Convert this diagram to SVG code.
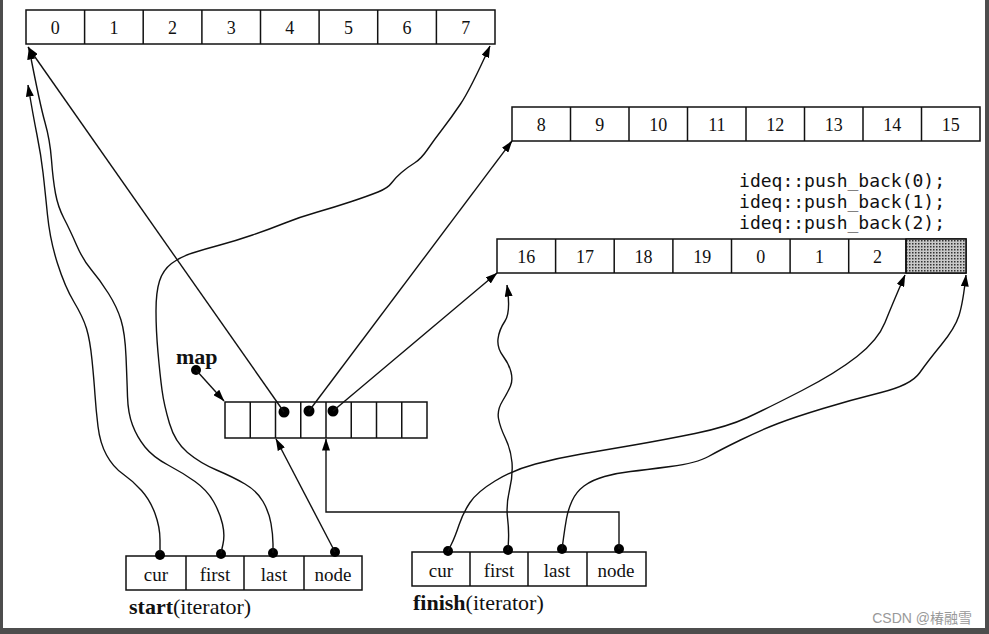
<svg xmlns="http://www.w3.org/2000/svg" width="989" height="634" viewBox="0 0 989 634">
<defs>
<marker id="ah" viewBox="0 0 12 8" refX="11.5" refY="4" markerWidth="12" markerHeight="8" orient="auto" markerUnits="userSpaceOnUse"><path d="M0,0 L12,4 L0,8 z" fill="#000"/></marker>
<pattern id="hatch" width="3" height="3" patternUnits="userSpaceOnUse"><rect width="3" height="3" fill="#c8c8c8"/><rect width="1.5" height="1.5" fill="#333"/></pattern>
</defs>
<style>
.box{fill:#fff;stroke:#111;stroke-width:1.5}
.div{stroke:#111;stroke-width:1.5}
.num{font-family:"Liberation Serif",serif;font-size:18px;text-anchor:middle;fill:#111}
.fld{font-family:"Liberation Serif",serif;font-size:19px;text-anchor:middle;fill:#111}
.cap{font-family:"Liberation Serif",serif;font-size:22px;fill:#111}
.code{font-family:"DejaVu Sans Mono",monospace;font-size:18px;fill:#111;text-anchor:end}
.ln{fill:none;stroke:#111;stroke-width:1.4}
.dot{fill:#000}
</style>
<rect x="0" y="0" width="989" height="634" fill="#fff"/>
<rect x="0" y="0" width="3" height="634" fill="#4d4d4d"/>
<rect x="985" y="0" width="4" height="634" fill="#4d4d4d"/>
<rect x="0" y="628" width="989" height="6" fill="#4d4d4d"/>

<g id="buffer1">
<rect class="box" x="26" y="10" width="469" height="34"/>
<path class="div" d="M84.6,10V44M143.2,10V44M201.9,10V44M260.5,10V44M319.1,10V44M377.7,10V44M436.4,10V44"/>
<text class="num" x="55.3" y="34">0</text><text class="num" x="113.9" y="34">1</text><text class="num" x="172.6" y="34">2</text><text class="num" x="231.2" y="34">3</text><text class="num" x="289.8" y="34">4</text><text class="num" x="348.4" y="34">5</text><text class="num" x="407" y="34">6</text><text class="num" x="465.7" y="34">7</text>
</g>

<g id="buffer2">
<rect class="box" x="512" y="107" width="468" height="34"/>
<path class="div" d="M570.5,107V141M629,107V141M687.5,107V141M746,107V141M804.5,107V141M863,107V141M921.5,107V141"/>
<text class="num" x="541.3" y="131">8</text><text class="num" x="599.8" y="131">9</text><text class="num" x="658.3" y="131">10</text><text class="num" x="716.8" y="131">11</text><text class="num" x="775.3" y="131">12</text><text class="num" x="833.8" y="131">13</text><text class="num" x="892.3" y="131">14</text><text class="num" x="950.8" y="131">15</text>
</g>

<g id="pushback">
<text class="code" x="945" y="187">ideq::push_back(0);</text>
<text class="code" x="945" y="208">ideq::push_back(1);</text>
<text class="code" x="945" y="229">ideq::push_back(2);</text>
</g>

<g id="buffer3">
<rect class="box" x="497" y="239" width="469" height="34"/>
<rect x="906" y="239" width="60" height="34" fill="url(#hatch)" stroke="#111" stroke-width="1.5"/>
<path class="div" d="M555.6,239V273M614.2,239V273M672.9,239V273M731.5,239V273M790.1,239V273M848.7,239V273M906,239V273"/>
<text class="num" x="526.3" y="263">16</text><text class="num" x="584.9" y="263">17</text><text class="num" x="643.6" y="263">18</text><text class="num" x="702.2" y="263">19</text><text class="num" x="760.8" y="263">0</text><text class="num" x="819.4" y="263">1</text><text class="num" x="877.4" y="263">2</text>
</g>

<g id="map">
<text class="cap" x="176" y="364" font-weight="bold">map</text>
<circle class="dot" cx="196" cy="370" r="5"/>
<rect class="box" x="225" y="402" width="202" height="36"/>
<path class="div" d="M250.25,402V438M275.5,402V438M300.75,402V438M326,402V438M351.25,402V438M376.5,402V438M401.75,402V438"/>
<circle class="dot" cx="284" cy="412" r="5.5"/>
<circle class="dot" cx="309" cy="411" r="5.5"/>
<circle class="dot" cx="333" cy="411" r="5.5"/>
</g>

<g id="start">
<rect class="box" x="126" y="556" width="236" height="34"/>
<path class="div" d="M186,556V590M244,556V590M304,556V590"/>
<text class="fld" x="156" y="581">cur</text><text class="fld" x="215" y="581">first</text><text class="fld" x="274" y="581">last</text><text class="fld" x="333" y="581">node</text>
<circle class="dot" cx="160" cy="555" r="5"/><circle class="dot" cx="221" cy="554" r="5"/><circle class="dot" cx="273" cy="553" r="5"/><circle class="dot" cx="335" cy="552" r="5"/>
<text class="cap" x="129" y="614"><tspan font-weight="bold">start</tspan>(iterator)</text>
</g>

<g id="finish">
<rect class="box" x="412" y="552" width="234" height="34"/>
<path class="div" d="M470,552V586M528,552V586M587,552V586"/>
<text class="fld" x="441" y="577">cur</text><text class="fld" x="499" y="577">first</text><text class="fld" x="557" y="577">last</text><text class="fld" x="616" y="577">node</text>
<circle class="dot" cx="448" cy="551" r="5"/><circle class="dot" cx="508" cy="550" r="5"/><circle class="dot" cx="562" cy="549" r="5"/><circle class="dot" cx="619" cy="549" r="5"/>
<text class="cap" x="413" y="610"><tspan font-weight="bold">finish</tspan>(iterator)</text>
</g>

<g id="connectors">
<path class="ln" marker-end="url(#ah)" d="M196,370 L224,401"/>
<path class="ln" marker-end="url(#ah)" d="M284,412 L28,47"/>
<path class="ln" marker-end="url(#ah)" d="M309,411 L512,141"/>
<path class="ln" marker-end="url(#ah)" d="M333,411 L497,273"/>
<path class="ln" marker-end="url(#ah)" d="M335,552 L276,439"/>
<path class="ln" marker-end="url(#ah)" d="M619,549 V512 H326 V439"/>
<path class="ln" marker-end="url(#ah)" d="M160,553 L160,540 Q160,527 155,513.5 Q150,500 141.5,490.5 Q133,481 123,474 Q113,467 106.5,455 Q100,443 98,426.5 Q96,410 95,395 Q94,380 92,360 Q90,340 86.5,328.5 Q83,317 74,302 Q65,287 57.5,263.5 Q50,240 47.5,215 Q45,190 43,172.5 Q41,155 37,135 Q33,115 28,85"/>
<path class="ln" marker-end="url(#ah)" d="M221,553 L223,544 Q225,535 222.5,524 Q220,513 213.5,501.5 Q207,490 195,481.5 Q183,473 168,465 Q153,457 145,447 Q137,437 132.5,425 Q128,413 127.5,396.5 Q127,380 126,356.5 Q125,333 121,320 Q117,307 108.5,293.5 Q100,280 91.5,270 Q83,260 76.5,245 Q70,230 64,218.5 Q58,207 55.5,193.5 Q53,180 51.5,160 Q50,140 45,122.5 Q40,105 29,48"/>
<path class="ln" marker-end="url(#ah)" d="M273,553 L273,544 Q273,535 271,523.5 Q269,512 263,501.5 Q257,491 245,484 Q233,477 216.5,470 Q200,463 187.5,452.5 Q175,442 169.5,423.5 Q164,405 162,390 Q160,375 158,352.5 Q156,330 156,311 Q156,292 159.5,281 Q163,270 171.5,263.5 Q180,257 192.5,253 Q205,249 220,245 Q235,241 252.5,235 Q270,229 285,223 Q300,217 317.5,212 Q335,207 351.5,201.5 Q368,196 378,192 Q388,188 391.5,183 Q395,178 401.5,172.5 Q408,167 414.5,163 Q421,159 427.5,149.5 Q434,140 442.5,129 Q451,118 460.5,104 Q470,90 490,46"/>
<path class="ln" marker-end="url(#ah)" d="M448,551 L451.5,544 Q455,537 459,525 Q463,513 470,502.5 Q477,492 495,481 Q513,470 535.5,464 Q558,458 581.5,454 Q605,450 634,445 Q663,440 695,433.5 Q727,427 747.5,417.5 Q768,408 802,390.5 Q836,373 857,356.5 Q878,340 885,322.5 Q892,305 905,275"/>
<path class="ln" marker-end="url(#ah)" d="M508,550 L508.5,540 Q509,530 507.5,517.5 Q506,505 509.5,490 Q513,475 512,462.5 Q511,450 505.5,438.5 Q500,427 498.5,418.5 Q497,410 502.5,401 Q508,392 510.5,386 Q513,380 511,372 Q509,364 503,356 Q497,348 498,339 Q499,330 505,321 Q511,312 507,285"/>
<path class="ln" marker-end="url(#ah)" d="M562,549 L563.5,538 Q565,527 566.5,518.5 Q568,510 572,501 Q576,492 584,486 Q592,480 604.5,476.5 Q617,473 630.5,471.5 Q644,470 670.5,466.5 Q697,463 708.5,456.5 Q720,450 740.5,440 Q761,430 778,423.5 Q795,417 823,408.5 Q851,400 881,392.5 Q911,385 919.5,373 Q928,361 941.5,344.5 Q955,328 959,315.5 Q963,303 966,275"/>
</g>

<g id="watermark">
<text x="972" y="623" text-anchor="end" font-family="'Liberation Sans','Noto Sans CJK SC',sans-serif" font-size="14" fill="#999">CSDN @椿融雪</text>
</g>
</svg>
